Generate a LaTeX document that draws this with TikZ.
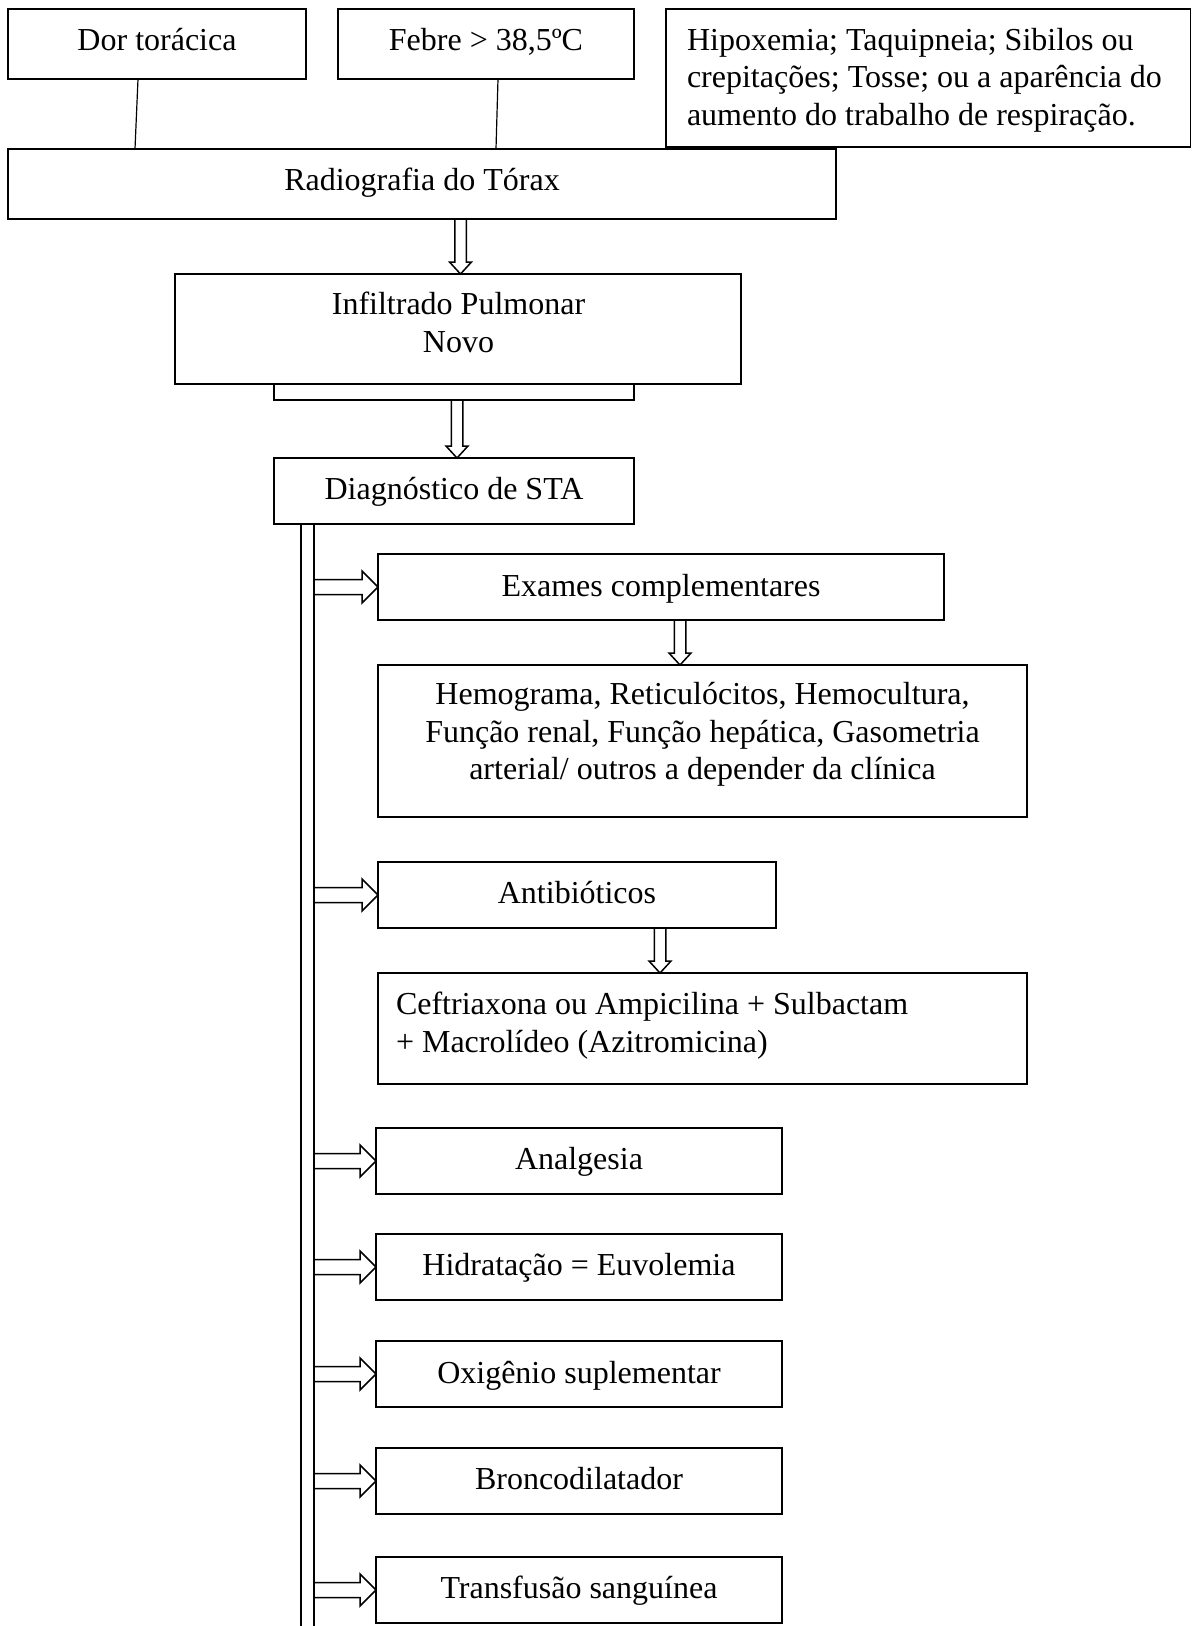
\documentclass[tikz,border=0pt]{standalone}
\usepackage{fontspec}
\setmainfont{Liberation Serif}
\usetikzlibrary{calc}
\tikzset{
  box/.style={draw, line width=1.5pt, rectangle, inner sep=0pt, outer sep=0pt, anchor=north west},
  txt/.style={inner sep=0pt, outer sep=0pt, font=\fontsize{32}{37.5}\selectfont},
  link/.style={draw, line width=1.2pt},
  barline/.style={draw, line width=1.5pt},
  varrow/.style={draw, line width=1.5pt, line join=miter,
    to path={let \p1=(\tikztostart), \p2=(\tikztotarget) in
      (\x1-5.75pt,\y1) -- (\x1-5.75pt,\y2+12pt) -- (\x1-11pt,\y2+12pt) -- (\x1,\y2)
      -- (\x1+11pt,\y2+12pt) -- (\x1+5.75pt,\y2+12pt) -- (\x1+5.75pt,\y1)}},
  harrow/.style={draw, line width=1.5pt, line join=miter,
    to path={let \p1=(\tikztostart), \p2=(\tikztotarget) in
      (\x1,\y1+7.5pt) -- (\x2-16pt,\y1+7.5pt) -- (\x2-16pt,\y1+16pt) -- (\x2,\y1)
      -- (\x2-16pt,\y1-16pt) -- (\x2-16pt,\y1-7.5pt) -- (\x1,\y1-7.5pt)}}
}
\begin{document}
\begin{tikzpicture}[x=1pt,y=-1pt]
\useasboundingbox (0,0) rectangle (1192,1626);
\fill[white] (0,0) rectangle (1192,1626);

% boxes
\node[box, minimum width=298pt, minimum height=70pt] (dor) at (8,9) {};
\node[box, minimum width=296pt, minimum height=70pt] (febre) at (338,9) {};
\node[box, minimum width=524.5pt, minimum height=138pt] (hipox) at (666,9) {};
\node[box, minimum width=828pt, minimum height=70pt] (radio) at (8,149) {};
\node[box, minimum width=566pt, minimum height=110pt] (infil) at (175,274) {};
\node[box, minimum width=360pt, minimum height=16pt] (thin) at (274,384) {};
\node[box, minimum width=360pt, minimum height=66pt] (diag) at (274,458) {};
\node[box, minimum width=566pt, minimum height=66pt] (exam) at (378,554) {};
\node[box, minimum width=649pt, minimum height=152pt] (hemo) at (378,665) {};
\node[box, minimum width=398pt, minimum height=66pt] (anti) at (378,862) {};
\node[box, minimum width=649pt, minimum height=111pt] (ceft) at (378,973) {};
\node[box, minimum width=406pt, minimum height=66pt] (anal) at (376,1128) {};
\node[box, minimum width=406pt, minimum height=66pt] (hidr) at (376,1234) {};
\node[box, minimum width=406pt, minimum height=66pt] (oxig) at (376,1341) {};
\node[box, minimum width=406pt, minimum height=66pt] (bronc) at (376,1448) {};
\node[box, minimum width=406pt, minimum height=66pt] (trans) at (376,1557) {};

% texts
\node[txt, anchor=base] (tdor) at (157,50) {Dor torácica};
\node[txt, anchor=base] (tfeb) at (486,50) {Febre > 38,5ºC};
\node[txt, anchor=base west] (thip) at (687,50) {\begin{tabular}[t]{@{}l@{}}Hipoxemia; Taquipneia; Sibilos ou\\crepitações; Tosse; ou a aparência do\\aumento do trabalho de respiração.\end{tabular}};
\node[txt, anchor=base] (trad) at (422,190) {Radiografia do Tórax};
\node[txt, anchor=base] (tinf) at (458.5,314.5) {\begin{tabular}[t]{@{}c@{}}Infiltrado Pulmonar\\Novo\end{tabular}};
\node[txt, anchor=base] (tdiag) at (454,499) {Diagnóstico de STA};
\node[txt, anchor=base] (texam) at (661,596.5) {Exames complementares};
\node[txt, anchor=base] (themo) at (702.5,704.5) {\begin{tabular}[t]{@{}c@{}}Hemograma, Reticulócitos, Hemocultura,\\Função renal, Função hepática, Gasometria\\arterial/ outros a depender da clínica\end{tabular}};
\node[txt, anchor=base] (tanti) at (577,903.5) {Antibióticos};
\node[txt, anchor=base west] (tceft) at (396,1014.5) {\begin{tabular}[t]{@{}l@{}}Ceftriaxona ou Ampicilina + Sulbactam\\+ Macrolídeo (Azitromicina)\end{tabular}};
\node[txt, anchor=base] (tanal) at (579,1169.5) {Analgesia};
\node[txt, anchor=base] (thidr) at (579,1275.5) {Hidratação = Euvolemia};
\node[txt, anchor=base] (toxig) at (579,1383) {Oxigênio suplementar};
\node[txt, anchor=base] (tbronc) at (579,1489.5) {Broncodilatador};
\node[txt, anchor=base] (ttrans) at (579,1598.5) {Transfusão sanguínea};

% plain links from the top boxes
\coordinate (xa) at (138,0);
\coordinate (xb) at (135,0);
\coordinate (xc) at (498,0);
\coordinate (xd) at (496,0);
\draw[link] (dor.south -| xa) -- (radio.north -| xb);
\draw[link] (febre.south -| xc) -- (radio.north -| xd);

% vertical hollow arrows
\coordinate (a1) at (460.5,0);
\coordinate (a2) at (457,0);
\coordinate (a3) at (680,0);
\coordinate (a4) at (660,0);
\draw[varrow] (radio.south -| a1) to (infil.north -| a1);
\draw[varrow] (thin.south -| a2) to (diag.north -| a2);
\draw[varrow] (exam.south -| a3) to (hemo.north -| a3);
\draw[varrow] (anti.south -| a4) to (ceft.north -| a4);

% double vertical bar
\coordinate (barL) at (301,0);
\coordinate (barR) at (314,0);
\coordinate (barEnd) at (0,1630);
\draw[barline] (diag.south -| barL) -- (barEnd -| barL);
\draw[barline] (diag.south -| barR) -- (barEnd -| barR);

% horizontal hollow arrows
\foreach \bx in {exam,anti,anal,hidr,oxig,bronc,trans}
  \draw[harrow] (\bx.west -| barR) to (\bx.west);
\end{tikzpicture}
\end{document}
